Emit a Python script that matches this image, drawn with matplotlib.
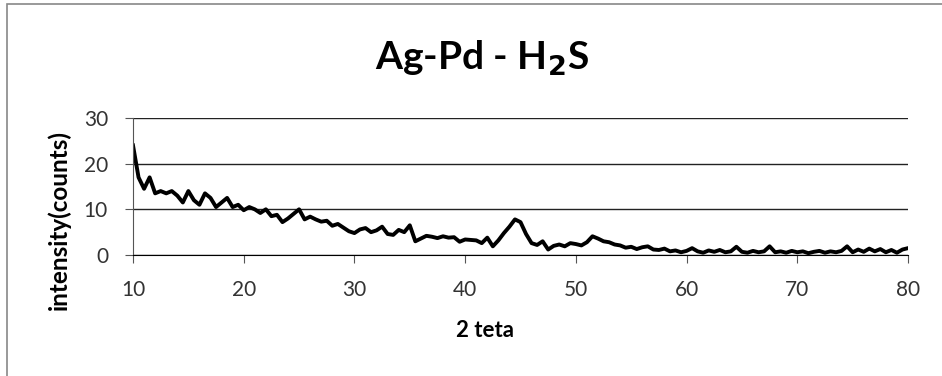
import numpy as np
import matplotlib.pyplot as plt
from matplotlib.patches import Rectangle

# 2 teta (grados) y intensidad
teta = np.arange(10, 80.01, 0.5)
intensity = [24, 17, 14.5, 17, 13.5, 14, 13.5, 14, 13, 11.5,
             14, 12, 11, 13.5, 12.5, 10.5, 11.5, 12.5, 10.5, 11,
             9.8, 10.5, 10, 9.2, 10, 8.5, 8.8, 7.2, 8, 9,
             10, 7.8, 8.4, 7.8, 7.3, 7.5, 6.4, 6.8, 6, 5.2,
             4.8, 5.6, 5.9, 5, 5.4, 6.2, 4.6, 4.4, 5.5, 5,
             6.5, 3, 3.6, 4.2, 4, 3.7, 4.1, 3.8, 3.9, 2.9,
             3.4, 3.3, 3.2, 2.6, 3.8, 1.9, 3.2, 4.8, 6.2, 7.8,
             7.2, 4.6, 2.6, 2.2, 3, 1.2, 2, 2.3, 1.9, 2.6,
             2.4, 2.1, 2.8, 4.1, 3.6, 3, 2.8, 2.3, 2.1, 1.6,
             1.8, 1.3, 1.7, 1.9, 1.2, 1.1, 1.4, 0.8, 1, 0.6,
             0.9, 1.5, 0.8, 0.5, 1, 0.7, 1.1, 0.6, 0.8, 1.8,
             0.7, 0.5, 0.9, 0.6, 0.8, 1.9, 0.6, 0.8, 0.5, 0.9,
             0.6, 0.8, 0.4, 0.7, 0.9, 0.5, 0.8, 0.6, 0.9, 1.9,
             0.6, 1.2, 0.7, 1.4, 0.8, 1.3, 0.6, 1.1, 0.5, 1.2,
             1.5]

xticks = [10, 20, 30, 40, 50, 60, 70, 80]
yticks = [0, 10, 20, 30]

plt.rcParams['font.family'] = ['Lato', 'DejaVu Sans']

fig = plt.figure(figsize=(9.42, 3.76), dpi=100)
ax = fig.add_axes([0.1412, 0.3218, 0.8227, 0.3644])

ax.plot(teta, intensity, color='black', lw=2.8)

ax.set_xlim(10, 80)
ax.set_ylim(0, 30)
ax.set_xticks(xticks)
ax.set_yticks(yticks)
ax.grid(axis='y', color='#222222', lw=1.0)
ax.spines['top'].set_visible(False)
ax.spines['right'].set_visible(False)
ax.spines['left'].set_color('#555555')
ax.tick_params(labelsize=15, length=6, pad=12, color='#555555', labelcolor='#333333')

ax.set_xlabel('2 teta', fontsize=16, fontweight='bold')
ax.xaxis.set_label_coords(0.454, -0.474)
ax.set_ylabel('intensity(counts)', fontsize=17.5, fontweight='bold')
ax.yaxis.set_label_coords(-0.08, 0.252)
fig.text(0.512, 0.814, 'Ag-Pd - H$_\\mathbf{2}$S', ha='center', va='baseline',
         fontsize=28, fontweight='bold')

# marco del grafico
fig.patches.append(Rectangle((0.0075, -0.01), 1.0, 1.0, transform=fig.transFigure,
                             fill=False, edgecolor='#888888', lw=1.2))

plt.savefig('out.png', dpi=100)
